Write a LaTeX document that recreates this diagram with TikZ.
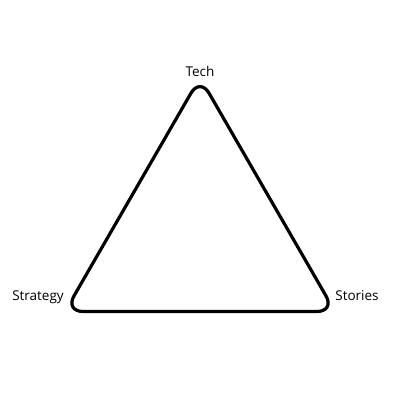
\documentclass[tikz,border=0pt]{standalone}
\usepackage{fontspec}
\setmainfont{Open Sans}
\begin{document}
\begin{tikzpicture}[x=1pt,y=-1pt,
  lbl/.style={font=\fontsize{13.5}{16}\selectfont, inner sep=0pt},
  tri/.style={draw=black, line width=3.2pt, rounded corners=18pt, line join=round}]
\useasboundingbox (0,0) rectangle (400,400);
\coordinate (t) at (200,77.5);
\coordinate (l) at (65,311.5);
\coordinate (r) at (335,311.5);
\draw[tri] (t) -- (r) -- (l) -- cycle;
\node[lbl] (tech) at (200,71) {Tech};
\node[lbl] (strategy) at (38,297) {Strategy};
\node[lbl] (stories) at (357,296) {Stories};
\end{tikzpicture}
\end{document}
